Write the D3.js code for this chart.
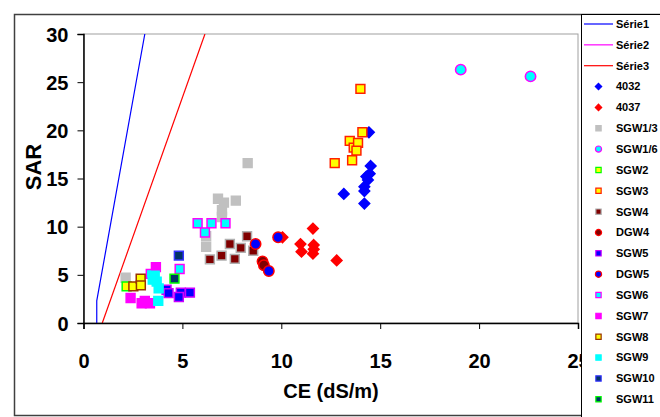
<!DOCTYPE html>
<html><head><meta charset="utf-8">
<script src="https://cdn.jsdelivr.net/npm/d3@7"></script>
<style>body{margin:0;background:#fff;} svg{display:block;font-family:"Liberation Sans",Arial,sans-serif;font-weight:bold;}</style>
</head><body>
<svg id="c" width="660" height="417"></svg>
<script>
// axis ticks
const xTicks = [0, 5, 10, 15, 20, 25];
const yTicks = [0, 5, 10, 15, 20, 25, 30];
// line series
const serie1 = [[0.67, 0], [0.67, 2.3], [3.1, 30]];
const serie2 = [];
const serie3 = [[0.95, 0], [6.14, 30]];
// point series [CE, SAR]
const s4032 = [[13.16, 13.4], [14.2, 12.4], [14.52, 16.3], [14.47, 15.5], [14.3, 15.2], [14.38, 14.85], [14.2, 14.15], [14.2, 13.7], [14.43, 19.8]];
const s4037 = [[11.6, 9.8], [10.97, 8.2], [11.02, 7.4], [11.64, 8.1], [11.6, 7.2], [11.64, 7.65], [12.8, 6.5], [10.06, 8.9]];
const sSGW13 = [[2.13, 4.7], [6.8, 12.9], [7.1, 12.5], [7.7, 12.7], [7.0, 11.7], [7.0, 11.0], [6.2, 7.9], [6.2, 9.0], [8.3, 16.6]];
const sSGW16 = [[19.07, 26.3], [22.6, 25.6]];
const sSGW2 = [[2.18, 3.8]];
const sSGW3 = [[14.0, 24.3], [14.1, 19.8], [13.46, 18.9], [13.66, 18.2], [13.88, 18.7], [13.8, 17.9], [13.58, 16.9], [12.7, 16.6]];
const sSGW4 = [[6.39, 6.6], [6.98, 7.0], [7.65, 6.65], [7.4, 8.2], [7.95, 7.8], [8.27, 9.0], [8.58, 7.5]];
const sDGW4 = [[9.05, 6.4], [9.12, 6.0]];
const sSGW5 = [[4.2, 3.45], [4.92, 3.15], [5.38, 3.15], [4.3, 3.1], [4.82, 2.7]];
const sDGW5 = [[8.7, 8.2], [9.37, 5.4], [9.84, 8.9]];
const sSGW6 = [[5.77, 10.35], [6.47, 10.35], [7.18, 10.35], [6.14, 9.4], [4.86, 5.6], [3.4, 5.1]];
const sSGW7 = [[2.38, 2.6], [2.94, 2.05], [3.36, 2.05], [3.1, 2.3], [3.66, 5.8]];
const sSGW8 = [[2.52, 3.8], [2.89, 4.6], [2.9, 3.9]];
const sSGW9 = [[3.6, 4.9], [3.7, 4.3], [3.8, 3.6], [3.5, 4.5], [3.78, 2.3]];
const sSGW10 = [[4.82, 7.0]];
const sSGW11 = [[4.6, 4.6]];

const lineSeries = [
  {name: "Série1", data: serie1, color: "#0000ff"},
  {name: "Série2", data: serie2, color: "#ff00ff"},
  {name: "Série3", data: serie3, color: "#ff0000"}
];
const pointSeries = [
  {name: "4032", data: s4032, shape: "diamond", fill: "#0000ff", stroke: "#0000ff"},
  {name: "4037", data: s4037, shape: "diamond", fill: "#ff0000", stroke: "#ff0000"},
  {name: "SGW1/3", data: sSGW13, shape: "square", fill: "#c0c0c0", stroke: "#c0c0c0"},
  {name: "SGW1/6", data: sSGW16, shape: "circle", fill: "#00ffff", stroke: "#ff00ff"},
  {name: "SGW2", data: sSGW2, shape: "square", fill: "#ffff00", stroke: "#00ff00"},
  {name: "SGW3", data: sSGW3, shape: "square", fill: "#ffff00", stroke: "#ff2000"},
  {name: "SGW4", data: sSGW4, shape: "square", fill: "#800000", stroke: "#b0b0b0"},
  {name: "DGW4", data: sDGW4, shape: "circle", fill: "#800000", stroke: "#ff0000"},
  {name: "SGW5", data: sSGW5, shape: "square", fill: "#0000ff", stroke: "#cc00ff"},
  {name: "DGW5", data: sDGW5, shape: "circle", fill: "#0000ff", stroke: "#ff0000"},
  {name: "SGW6", data: sSGW6, shape: "square", fill: "#00ffff", stroke: "#ff00ff"},
  {name: "SGW7", data: sSGW7, shape: "square", fill: "#ff00ff", stroke: "#ff00ff"},
  {name: "SGW8", data: sSGW8, shape: "square", fill: "#ffff00", stroke: "#993300"},
  {name: "SGW9", data: sSGW9, shape: "square", fill: "#00ffff", stroke: "#00ffff"},
  {name: "SGW10", data: sSGW10, shape: "square", fill: "#003366", stroke: "#3333ff"},
  {name: "SGW11", data: sSGW11, shape: "square", fill: "#003366", stroke: "#00ff00"}
];

const svg = d3.select("#c");
const L = 83.5, R = 578, T = 34, B = 323;
const x = d3.scaleLinear().domain([0, 25]).range([L, R]);
const y = d3.scaleLinear().domain([0, 30]).range([B, T]);

// outer chart border
svg.append("rect").attr("x", 14.5).attr("y", 14.5).attr("width", 700).attr("height", 401)
  .attr("fill", "#fff").attr("stroke", "#404040").attr("stroke-width", 1.5);

// plot area border
svg.append("rect").attr("x", L).attr("y", T).attr("width", R - L).attr("height", B - T)
  .attr("fill", "#fff").attr("stroke", "#a0a0a0").attr("stroke-width", 1);

const plot = svg.append("g");
plot.append("clipPath").attr("id", "clip").append("rect")
  .attr("x", L).attr("y", T).attr("width", R - L).attr("height", B - T);

// lines
const lineGen = d3.line().x(d => x(d[0])).y(d => y(d[1]));
plot.selectAll("path.ser").data(lineSeries).join("path")
  .attr("class", "ser").attr("clip-path", "url(#clip)")
  .attr("d", d => d.data.length ? lineGen(d.data) : null)
  .attr("fill", "none").attr("stroke", d => d.color).attr("stroke-width", 1.2);

function symPath(shape, size) {
  const t = shape === "diamond" ? d3.symbolDiamond2 : shape === "circle" ? d3.symbolCircle : d3.symbolSquare2;
  return d3.symbol().type(t).size(size)();
}
function markerSize(shape, big) {
  if (shape === "diamond") return big ? 72 : 26;
  if (shape === "circle") return big ? 85 : 30;
  return big ? 100 : 36;
}

// points
pointSeries.forEach(s => {
  plot.append("g").selectAll("path").data(s.data).join("path")
    .attr("transform", d => `translate(${x(d[0])},${y(d[1])})`)
    .attr("d", symPath(s.shape, markerSize(s.shape, true)))
    .attr("fill", s.fill).attr("stroke", s.stroke).attr("stroke-width", 1.5);
});

// axes
const xAxis = d3.axisBottom(x).tickValues(xTicks).tickSize(6).tickFormat(d3.format("d"));
const gx = svg.append("g").attr("transform", `translate(0,${B})`).call(xAxis);
gx.select(".domain").attr("stroke", "#000").attr("stroke-width", 1.5);
gx.selectAll(".tick line").attr("stroke", "#000");
gx.selectAll(".tick text").attr("font-size", 20).attr("font-weight", "bold").attr("fill", "#000")
  .attr("font-family", "Liberation Sans, Arial").attr("dy", 0).attr("y", 45);

const yAxis = d3.axisLeft(y).tickValues(yTicks).tickSize(6).tickFormat(d3.format("d"));
const gy = svg.append("g").attr("transform", `translate(${L},0)`).call(yAxis);
gy.select(".domain").attr("stroke", "#000").attr("stroke-width", 1.5);
gy.selectAll(".tick line").attr("stroke", "#000");
gy.selectAll(".tick text").attr("font-size", 20).attr("font-weight", "bold").attr("fill", "#000")
  .attr("font-family", "Liberation Sans, Arial").attr("x", -15).attr("dy", "0.35em");

// axis titles
svg.append("text").attr("x", 331).attr("y", 398).attr("text-anchor", "middle")
  .attr("font-size", 20).attr("fill", "#000").text("CE (dS/m)");
svg.append("text").attr("transform", "translate(41,167) rotate(-90)").attr("text-anchor", "middle")
  .attr("font-size", 22).attr("fill", "#000").text("SAR");

// legend
const lg = svg.append("g");
lg.append("rect").attr("x", 581.5).attr("y", 14.5).attr("width", 100).attr("height", 420)
  .attr("fill", "#fff").attr("stroke", "#000").attr("stroke-width", 1);
const rowY = i => 24 + i * 20.85;
lineSeries.forEach((s, i) => {
  lg.append("line").attr("x1", 584).attr("x2", 613).attr("y1", rowY(i)).attr("y2", rowY(i))
    .attr("stroke", s.color).attr("stroke-width", 1.2);
  lg.append("text").attr("x", 616).attr("y", rowY(i)).attr("dy", "0.35em")
    .attr("font-size", 11).attr("fill", "#000").text(s.name);
});
pointSeries.forEach((s, j) => {
  const i = j + lineSeries.length;
  lg.append("path").attr("transform", `translate(598.5,${rowY(i)})`)
    .attr("d", symPath(s.shape, markerSize(s.shape, false)))
    .attr("fill", s.fill).attr("stroke", s.stroke).attr("stroke-width", 1.2);
  lg.append("text").attr("x", 616).attr("y", rowY(i)).attr("dy", "0.35em")
    .attr("font-size", 11).attr("fill", "#000").text(s.name);
});
</script>
</body></html>
